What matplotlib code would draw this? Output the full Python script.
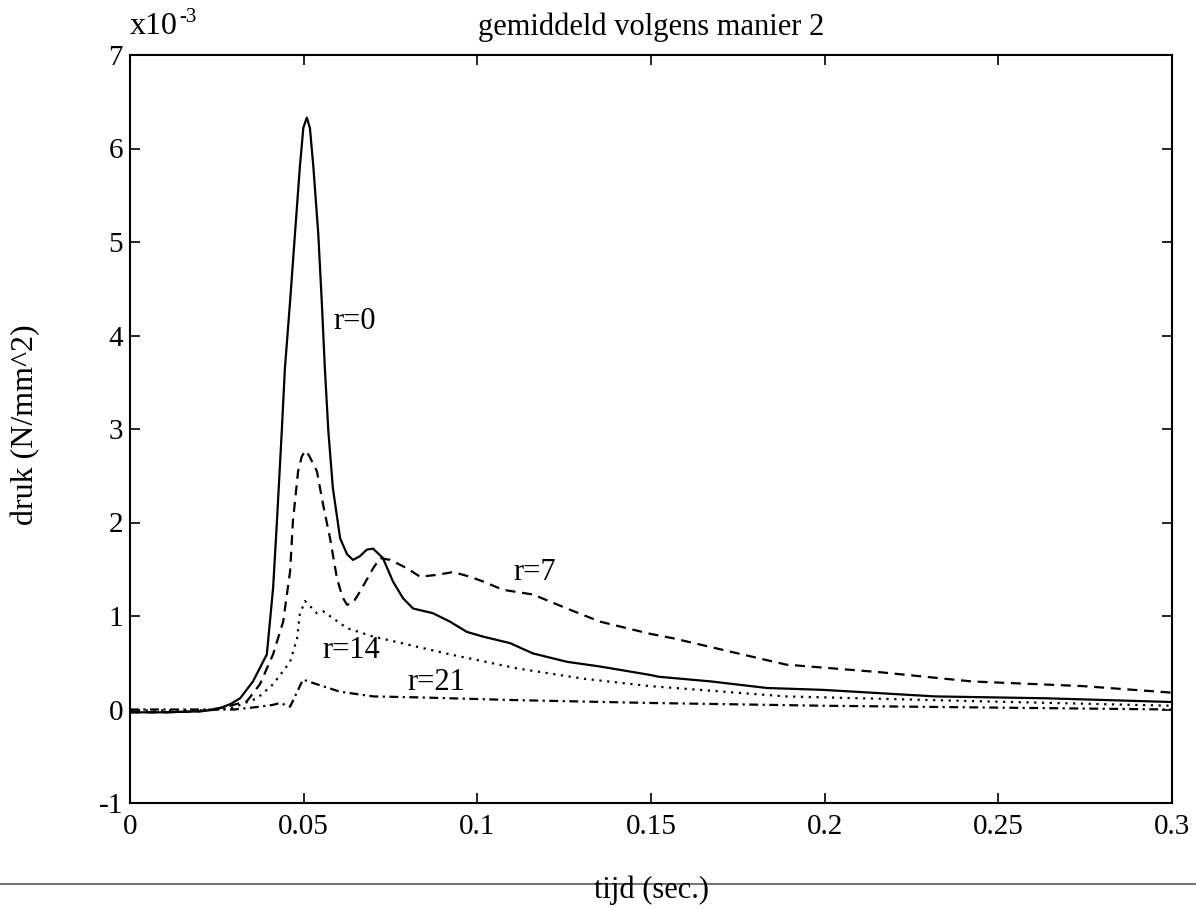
import matplotlib
matplotlib.use("Agg")
import matplotlib.pyplot as plt
from matplotlib.lines import Line2D

plt.rcParams['font.family'] = ['Liberation Serif', 'DejaVu Serif']

# ---- data (pressure in units of 1e-3 N/mm^2, time in s) ----
t_r0 = [0, 0.01, 0.02, 0.025, 0.029, 0.0317, 0.0354, 0.0394, 0.0412, 0.0423,
        0.0437, 0.0446, 0.0461, 0.0475, 0.0489, 0.0499, 0.0509, 0.0518, 0.0528,
        0.0542, 0.0552, 0.0561, 0.0571, 0.0584, 0.0605, 0.0625, 0.0642, 0.0662,
        0.0682, 0.070, 0.0728, 0.0757, 0.0786, 0.0815, 0.0872, 0.0921, 0.097,
        0.1016, 0.1094, 0.116, 0.1258, 0.1353, 0.1497, 0.1523, 0.1673, 0.1834,
        0.1995, 0.2318, 0.2637, 0.3]
p_r0 = [-0.03, -0.03, -0.02, 0.0, 0.06, 0.12, 0.3, 0.59, 1.3, 2.01,
        2.98, 3.65, 4.37, 5.09, 5.8, 6.22, 6.33, 6.22, 5.8,
        5.09, 4.37, 3.65, 2.98, 2.37, 1.83, 1.66, 1.6, 1.64,
        1.71, 1.72, 1.62, 1.37, 1.19, 1.08, 1.03, 0.94, 0.83,
        0.78, 0.71, 0.6, 0.51, 0.46, 0.37, 0.35, 0.3, 0.23,
        0.21, 0.14, 0.12, 0.08]

t_r7 = [0, 0.01, 0.02, 0.028, 0.0317, 0.0337, 0.0374, 0.0412, 0.0441, 0.0461,
        0.0469, 0.0484, 0.0494, 0.0504, 0.0515, 0.0538, 0.0556, 0.0576, 0.0596,
        0.0612, 0.0625, 0.0642, 0.0662, 0.070, 0.072, 0.0749, 0.0798, 0.0835,
        0.0884, 0.093, 0.0979, 0.1016, 0.1074, 0.116, 0.1258, 0.1353, 0.1497,
        0.1566, 0.1727, 0.1889, 0.2156, 0.2424, 0.2744, 0.3]
p_r7 = [-0.03, -0.03, -0.02, 0.03, 0.07, 0.09, 0.27, 0.59, 0.94, 1.48,
        2.01, 2.55, 2.7, 2.77, 2.72, 2.55, 2.19, 1.83, 1.4,
        1.2, 1.12, 1.14, 1.26, 1.51, 1.62, 1.6, 1.51, 1.42,
        1.44, 1.47, 1.42, 1.37, 1.28, 1.23, 1.08, 0.94, 0.81,
        0.76, 0.62, 0.48, 0.4, 0.3, 0.25, 0.18]

t_r14 = [0, 0.02, 0.03, 0.0317, 0.0366, 0.0412, 0.0461, 0.0481, 0.0489, 0.0504,
         0.0538, 0.0556, 0.0625, 0.070, 0.0921, 0.1114, 0.1304, 0.1497, 0.1889,
         0.2424, 0.3]
p_r14 = [-0.01, -0.01, 0.02, 0.05, 0.12, 0.27, 0.51, 0.76, 1.02, 1.16,
         1.03, 1.05, 0.87, 0.78, 0.59, 0.44, 0.33, 0.25, 0.14,
         0.09, 0.04]

t_r21 = [0, 0.02, 0.03, 0.0374, 0.0412, 0.0432, 0.0461, 0.0498, 0.0538, 0.0605,
         0.07, 0.0826, 0.1114, 0.1497, 0.2, 0.25, 0.3]
p_r21 = [0.0, 0.0, 0.0, 0.03, 0.05, 0.07, 0.03, 0.32, 0.27, 0.19,
         0.14, 0.13, 0.1, 0.07, 0.04, 0.02, 0.0]

x_ticks = [0, 0.05, 0.1, 0.15, 0.2, 0.25, 0.3]
x_ticklabels = ['0', '0.05', '0.1', '0.15', '0.2', '0.25', '0.3']
y_ticks = [-1, 0, 1, 2, 3, 4, 5, 6, 7]
y_ticklabels = ['-1', '0', '1', '2', '3', '4', '5', '6', '7']

# ---- figure ----
fig = plt.figure(figsize=(11.96, 9.10), dpi=100)
ax = fig.add_axes([130/1196, 1 - 803/910, 1042/1196, (803-55)/910])

lw = 1.6
ax.plot(t_r0, p_r0, color='black', lw=lw, ls='-')
ax.plot(t_r7, p_r7, color='black', lw=lw, ls=(0, (4.5, 3)))
ax.plot(t_r14, p_r14, color='black', lw=lw, ls=(0, (1, 2.5)))
ax.plot(t_r21, p_r21, color='black', lw=lw, ls=(0, (4, 2, 1, 2)))

lab_fs = 22
ax.text(0.0585, 4.15, 'r=0', fontsize=lab_fs, va='center', ha='left')
ax.text(0.1103, 1.47, 'r=7', fontsize=lab_fs, va='center', ha='left')
ax.text(0.0553, 0.63, 'r=14', fontsize=lab_fs, va='center', ha='left')
ax.text(0.080, 0.29, 'r=21', fontsize=lab_fs, va='center', ha='left')

ax.set_xlim(0, 0.3)
ax.set_ylim(-1, 7)
ax.set_xticks(x_ticks)
ax.set_xticklabels(x_ticklabels)
ax.set_yticks(y_ticks)
ax.set_yticklabels(y_ticklabels)
ax.tick_params(direction='in', length=7, width=1.2, top=True, right=True,
               labelsize=21, color='black')
ax.tick_params(axis='x', pad=8)
ax.tick_params(axis='y', pad=5)
for s in ax.spines.values():
    s.set_linewidth(1.5)
    s.set_color('black')

ax.set_xlabel('tijd (sec.)', fontsize=22)
ax.xaxis.label.set_va('center')
ax.xaxis.set_label_coords(0.5, (803 - 890) / 748)
ax.set_ylabel('druk (N/mm^2)', fontsize=23)
ax.yaxis.label.set_va('center')
ax.yaxis.set_label_coords((26 - 130) / 1042, (803 - 425) / 748)

ax.text(0.5, 1 + (55 - 27) / 748, 'gemiddeld volgens manier 2',
        transform=ax.transAxes, ha='center', va='center', fontsize=22)
ax.text(0.0, 1 + (55 - 26) / 748, 'x10',
        transform=ax.transAxes, ha='left', va='center', fontsize=23)
ax.text(49 / 1042, 1 + (55 - 17) / 748, '-3',
        transform=ax.transAxes, ha='left', va='center', fontsize=15)

# scan artefact: grey rule across the page
fig.add_artist(Line2D([0, 1], [1 - 884/910, 1 - 884/910],
                      transform=fig.transFigure, color='#777777', lw=1.5,
                      zorder=0))

fig.savefig('out.png', dpi=100, facecolor='white')
